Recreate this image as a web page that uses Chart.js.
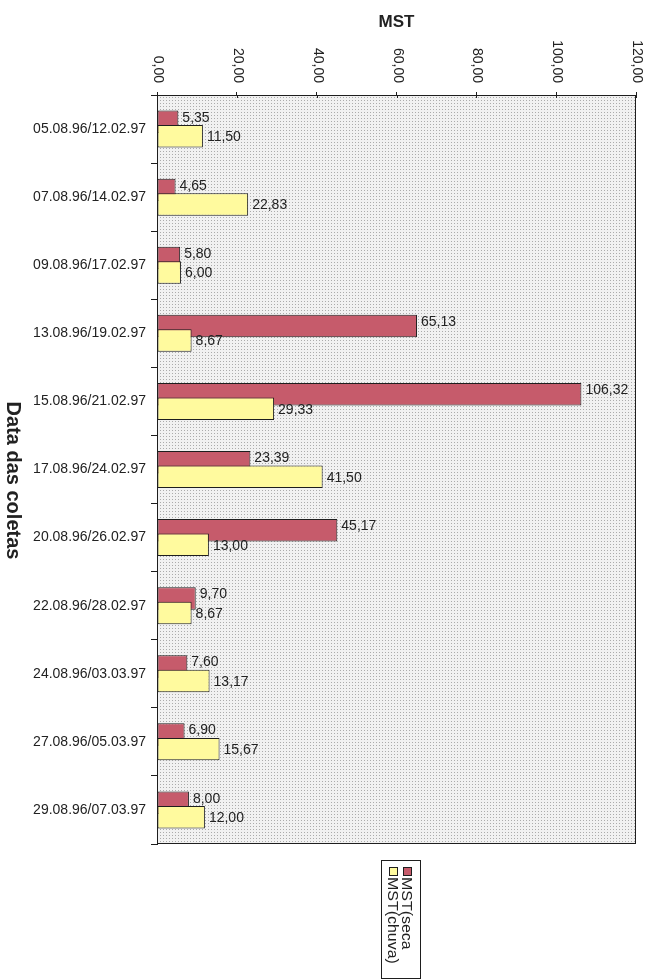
<!DOCTYPE html>
<html>
<head>
<meta charset="utf-8">
<title>MST</title>
<script src="https://cdn.jsdelivr.net/npm/chart.js@4.4.1/dist/chart.umd.min.js"></script>
<style>
  html, body { margin: 0; padding: 0; background: #ffffff; }
  canvas { display: block; }
</style>
</head>
<body>
<canvas id="mstChart" width="656" height="980"></canvas>
<script>
// Datas das coletas (seca / chuva)
const coletas = [
  '05.08.96/12.02.97', '07.08.96/14.02.97', '09.08.96/17.02.97',
  '13.08.96/19.02.97', '15.08.96/21.02.97', '17.08.96/24.02.97',
  '20.08.96/26.02.97', '22.08.96/28.02.97', '24.08.96/03.03.97',
  '27.08.96/05.03.97', '29.08.96/07.03.97'
];
// MST no período seco
const mstSeca = [5.35, 4.65, 5.80, 65.13, 106.32, 23.39, 45.17, 9.70, 7.60, 6.90, 8.00];
// MST no período chuvoso
const mstChuva = [11.50, 22.83, 6.00, 8.67, 29.33, 41.50, 13.00, 8.67, 13.17, 15.67, 12.00];
// Marcas do eixo de valores
const mstTicks = [0, 20, 40, 60, 80, 100, 120];

const seriesNames = ['MST(seca', 'MST(chuva)'];
const axisTitleY = 'Data das coletas';
const axisTitleX = 'MST';

const FONT = "'Liberation Sans', Arial, Helvetica, sans-serif";
const INK = '#222222';
const LINE = '#1e1e1e';
const RED = '#c65b6b';
const YELLOW = '#fffa9e';

const fmt = v => v.toFixed(2).replace('.', ',');

// Fine stippled fill for the plot area
function stipple(ctx) {
  const t = document.createElement('canvas');
  t.width = 3; t.height = 3;
  const g = t.getContext('2d');
  g.fillStyle = '#f1f1f1';
  g.fillRect(0, 0, 3, 3);
  g.fillStyle = '#ababab';
  g.fillRect(1, 1, 1, 1);
  return ctx.createPattern(t, 'repeat');
}

const decorations = {
  id: 'decorations',
  beforeDraw(chart) {
    const { ctx, chartArea: a } = chart;
    ctx.save();
    ctx.fillStyle = stipple(ctx);
    ctx.fillRect(a.left, a.top, a.right - a.left, a.bottom - a.top);
    ctx.restore();
  },
  // the chuva bars are painted after the seca bars so they sit on top
  beforeDatasetDraw(chart, args) {
    if (args.index === 1) return false;
  },
  afterDatasetsDraw(chart) {
    const { ctx, chartArea: a } = chart;
    ctx.save();
    ctx.beginPath();
    ctx.rect(a.left, a.top, a.right - a.left, a.bottom - a.top);
    ctx.clip();
    chart.getDatasetMeta(1).controller.draw();
    ctx.restore();

    // frame of the plot area
    ctx.save();
    ctx.strokeStyle = LINE;
    ctx.lineWidth = 1;
    ctx.strokeRect(Math.round(a.left) + 0.5, Math.round(a.top) + 0.5,
                   Math.round(a.right - a.left) - 1, Math.round(a.bottom - a.top) - 1);

    // inner half of the value-axis tick marks
    const xs = chart.scales.x;
    ctx.beginPath();
    xs.ticks.forEach((t, i) => {
      const px = Math.round(xs.getPixelForTick(i)) + 0.5;
      ctx.moveTo(px, a.top);
      ctx.lineTo(px, a.top + 3);
    });
    ctx.stroke();

    // value labels
    ctx.fillStyle = INK;
    ctx.font = '14px ' + FONT;
    ctx.textAlign = 'left';
    ctx.textBaseline = 'middle';
    chart.data.datasets.forEach((ds, di) => {
      const meta = chart.getDatasetMeta(di);
      const dy = di === 0 ? -4 : 1;
      meta.data.forEach((el, i) => {
        ctx.fillText(fmt(ds.data[i]), el.x + 4, el.y + dy);
      });
    });
    ctx.restore();
  },
  afterDraw(chart) {
    const { ctx, chartArea: a } = chart;
    const xs = chart.scales.x;
    ctx.save();
    ctx.fillStyle = INK;

    // value-axis labels, turned a quarter clockwise
    ctx.font = '14px ' + FONT;
    ctx.textAlign = 'right';
    ctx.textBaseline = 'middle';
    xs.ticks.forEach((t, i) => {
      const px = xs.getPixelForTick(i);
      ctx.save();
      ctx.translate(px + 1, a.top - 12);
      ctx.rotate(Math.PI / 2);
      ctx.fillText(fmt(t.value), 0, 0);
      ctx.restore();
    });

    // category-axis title
    ctx.save();
    ctx.font = 'bold 20px ' + FONT;
    ctx.textAlign = 'center';
    ctx.textBaseline = 'middle';
    ctx.translate(13, (a.top + a.bottom) / 2 + 11);
    ctx.rotate(Math.PI / 2);
    ctx.fillText(axisTitleY, 0, 0);
    ctx.restore();

    // legend, turned a quarter clockwise
    const cx = (a.left + a.right) / 2 + 4;
    const boxTop = a.bottom + 16;
    ctx.strokeStyle = LINE;
    ctx.lineWidth = 1;
    ctx.strokeRect(Math.round(cx - 20) + 0.5, boxTop + 0.5, 39, 118);
    ctx.font = '14px ' + FONT;
    ctx.textAlign = 'left';
    ctx.textBaseline = 'middle';
    chart.data.datasets.forEach((ds, di) => {
      const colX = cx + 6 - di * 14;
      ctx.fillStyle = ds.backgroundColor;
      ctx.fillRect(Math.round(colX - 4), boxTop + 7, 8, 8);
      ctx.strokeRect(Math.round(colX - 4) + 0.5, boxTop + 7.5, 8, 8);
      ctx.fillStyle = INK;
      ctx.save();
      ctx.translate(colX - 1, boxTop + 17);
      ctx.rotate(Math.PI / 2);
      ctx.scale(1.14, 1);
      ctx.fillText(ds.label, 0, 0);
      ctx.restore();
    });
    ctx.restore();
  }
};

new Chart(document.getElementById('mstChart'), {
  type: 'bar',
  data: {
    labels: coletas,
    datasets: [
      {
        label: seriesNames[0],
        data: mstSeca,
        backgroundColor: RED,
        borderColor: LINE,
        borderWidth: 1,
        borderSkipped: false
      },
      {
        label: seriesNames[1],
        data: mstChuva,
        backgroundColor: YELLOW,
        borderColor: LINE,
        borderWidth: 1,
        borderSkipped: false
      }
    ]
  },
  options: {
    indexAxis: 'y',
    responsive: false,
    animation: false,
    categoryPercentage: 0.426,
    barPercentage: 1.55,
    layout: { padding: { top: 0, left: 0, right: 20, bottom: 136 } },
    plugins: {
      legend: { display: false },
      tooltip: { enabled: false }
    },
    scales: {
      x: {
        type: 'linear',
        position: 'top',
        min: mstTicks[0],
        max: mstTicks[mstTicks.length - 1],
        afterBuildTicks: s => { s.ticks = mstTicks.map(v => ({ value: v })); },
        afterFit: s => { s.height = 95; },
        ticks: { display: false },
        grid: { drawOnChartArea: false, tickLength: 3, tickColor: LINE, tickWidth: 1 },
        border: { display: true, color: LINE, width: 1 },
        title: {
          display: true,
          text: axisTitleX,
          color: INK,
          font: { family: FONT, size: 17, weight: 'bold' },
          padding: { top: 12, bottom: 0 }
        }
      },
      y: {
        type: 'category',
        position: 'left',
        offset: true,
        afterFit: s => { s.width = 157; },
        ticks: { color: INK, font: { family: FONT, size: 14 }, padding: 5, autoSkip: false },
        grid: { offset: true, drawOnChartArea: false, tickLength: 6, tickColor: LINE, tickWidth: 1 },
        border: { display: true, color: LINE, width: 1 }
      }
    }
  },
  plugins: [decorations]
});
</script>
</body>
</html>
